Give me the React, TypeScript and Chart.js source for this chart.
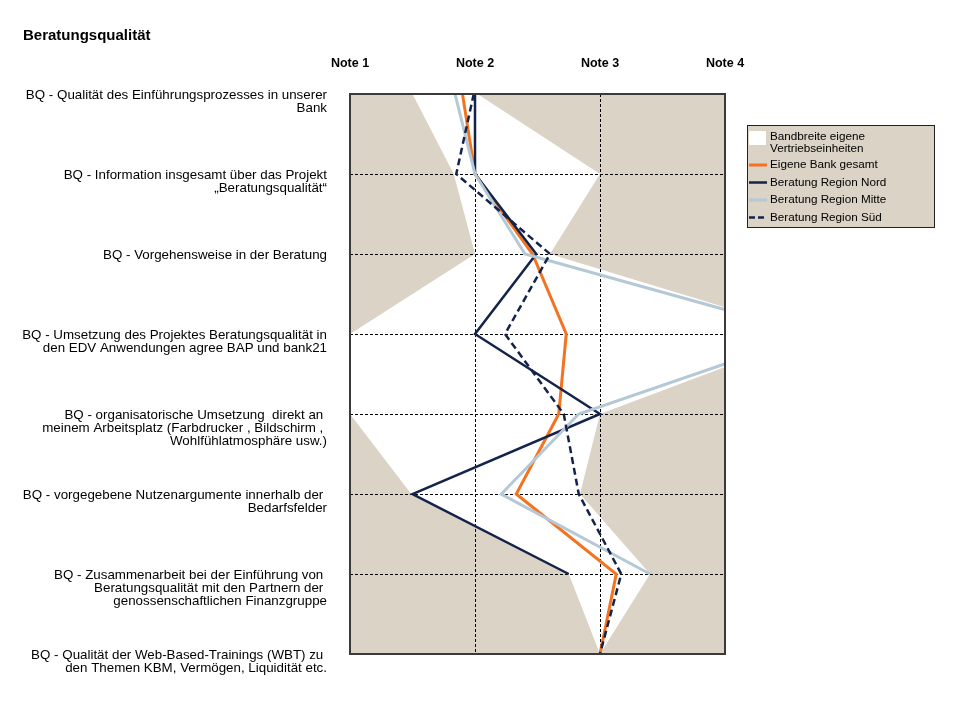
import React, { useEffect, useRef } from "react";
import { Chart, registerables } from "chart.js";

// ---------- data ----------
const chartTitle = "Beratungsqualität";

const categoryLines: string[][] = [
  ["BQ - Qualität des Einführungsprozesses in unserer", "Bank"],
  ["BQ - Information insgesamt über das Projekt", "„Beratungsqualität“"],
  ["BQ - Vorgehensweise in der Beratung"],
  ["BQ - Umsetzung des Projektes Beratungsqualität in", "den EDV Anwendungen agree BAP und bank21"],
  ["BQ - organisatorische Umsetzung  direkt an ", "meinem Arbeitsplatz (Farbdrucker , Bildschirm , ", "Wohlfühlatmosphäre usw.)"],
  ["BQ - vorgegebene Nutzenargumente innerhalb der ", "Bedarfsfelder"],
  ["BQ - Zusammenarbeit bei der Einführung von ", "Beratungsqualität mit den Partnern der ", "genossenschaftlichen Finanzgruppe"],
  ["BQ - Qualität der Web-Based-Trainings (WBT) zu ", "den Themen KBM, Vermögen, Liquidität etc."],
];

const xTickLabels = ["Note 1", "Note 2", "Note 3", "Note 4"];

const seriesNames = [
  "Bandbreite eigene Vertriebseinheiten",
  "Eigene Bank gesamt",
  "Beratung Region Nord",
  "Beratung Region Mitte",
  "Beratung Region Süd",
];

const bandMin = [1.5, 1.83, 2.0, 1.0, 1.0, 1.49, 2.75, 3.0];
const bandMax = [2.02, 3.0, 2.6, 4.7, 3.0, 2.84, 3.4, 3.0];
const eigeneBank = [1.9, 2.0, 2.46, 2.73, 2.67, 2.33, 3.13, 3.0];
const regionNord = [2.0, 2.0, 2.49, 2.0, 3.0, 1.5, 2.75, null];
const regionMitte = [1.84, 2.0, 2.4, 4.7, 2.83, 2.21, 3.4, null];
const regionSued = [1.99, 1.85, 2.6, 2.24, 2.71, 2.83, 3.17, 3.0];

// ---------- styles ----------
const FONT = "'Liberation Sans', Arial, sans-serif";
const BEIGE = "#dad3c6";
const ORANGE = "#f47320";
const NAVY = "#14234a";
const LIGHTBLUE = "#b4c8d5";
const FRAME = "#3a3a3a";

const plotBgPlugin = {
  id: "plotBg",
  beforeDraw(chart: any, _args: any, opts: any) {
    if (!opts || !opts.color) return;
    const { ctx, chartArea: a } = chart;
    ctx.save();
    ctx.fillStyle = opts.color;
    ctx.fillRect(a.left, a.top, a.right - a.left, a.bottom - a.top);
    ctx.restore();
  },
};

Chart.register(plotBgPlugin);
Chart.register(...registerables);

const decorPlugin = {
  id: "decor",
  afterDraw(chart: any) {
    const { ctx, chartArea: a } = chart;
    const yScale = chart.scales.y;
    ctx.save();
    // frame
    ctx.strokeStyle = FRAME;
    ctx.lineWidth = 2;
    ctx.strokeRect(a.left, a.top, a.right - a.left, a.bottom - a.top);

    // title
    ctx.fillStyle = "#000";
    ctx.font = `bold 15px ${FONT}`;
    ctx.textAlign = "left";
    ctx.textBaseline = "middle";
    ctx.fillText(chartTitle, 23, 36);

    // category labels (top-aligned to each tick)
    ctx.font = `13.35px ${FONT}`;
    ctx.textAlign = "right";
    ctx.textBaseline = "middle";
    const lineH = 13.4;
    categoryLines.forEach((lines, i) => {
      const y0 = yScale.getPixelForTick(i) + 1;
      lines.forEach((t, j) => {
        ctx.fillText(t, 327, y0 + j * lineH);
      });
    });

    // legend
    const lx = 747.5, ly = 125.5, lw = 187, lh = 102;
    ctx.fillStyle = BEIGE;
    ctx.fillRect(lx, ly, lw, lh);
    ctx.strokeStyle = "#222";
    ctx.lineWidth = 1;
    ctx.strokeRect(lx, ly, lw, lh);

    ctx.font = `11.7px ${FONT}`;
    ctx.textAlign = "left";
    ctx.textBaseline = "middle";
    const tx = 770;
    // band swatch
    ctx.fillStyle = "#fff";
    ctx.fillRect(749, 131, 17, 14);
    ctx.fillStyle = "#000";
    const bandWords = seriesNames[0].split(" ");
    ctx.fillText(bandWords.slice(0, 2).join(" "), tx, 136.5);
    ctx.fillText(bandWords.slice(2).join(" "), tx, 148.5);

    const rows = [
      { y: 165, color: ORANGE, dash: [] as number[], w: 3 },
      { y: 182.5, color: NAVY, dash: [] as number[], w: 2.5 },
      { y: 200, color: LIGHTBLUE, dash: [] as number[], w: 3 },
      { y: 217.5, color: NAVY, dash: [6, 3], w: 2.5 },
    ];
    rows.forEach((r, i) => {
      ctx.strokeStyle = r.color;
      ctx.lineWidth = r.w;
      ctx.setLineDash(r.dash);
      ctx.beginPath();
      ctx.moveTo(749, r.y);
      ctx.lineTo(767, r.y);
      ctx.stroke();
      ctx.setLineDash([]);
      ctx.fillStyle = "#000";
      ctx.fillText(seriesNames[i + 1], tx, r.y);
    });
    ctx.restore();
  },
};

export default function App() {
  const ref = useRef<HTMLCanvasElement | null>(null);

  useEffect(() => {
    if (!ref.current) return;
    const lineDefaults = {
      pointRadius: 0,
      pointHoverRadius: 0,
      tension: 0,
      fill: false,
      clip: 0,
      spanGaps: false,
    };
    const chart = new Chart(ref.current, {
      type: "line",
      data: {
        labels: categoryLines.map((l) => l.join(" ")),
        datasets: [
          { ...lineDefaults, label: seriesNames[4], data: regionSued, borderColor: NAVY, borderWidth: 2.5, borderDash: [7, 4] },
          { ...lineDefaults, label: seriesNames[3], data: regionMitte, borderColor: LIGHTBLUE, borderWidth: 3 },
          { ...lineDefaults, label: seriesNames[2], data: regionNord, borderColor: NAVY, borderWidth: 2.5 },
          { ...lineDefaults, label: seriesNames[1], data: eigeneBank, borderColor: ORANGE, borderWidth: 3 },
          { ...lineDefaults, label: seriesNames[0], data: bandMin, borderColor: "rgba(0,0,0,0)", borderWidth: 1, backgroundColor: "#ffffff", fill: "+1" },
          { ...lineDefaults, label: seriesNames[0] + " max", data: bandMax, borderColor: "rgba(0,0,0,0)", borderWidth: 1 },
        ] as any,
      },
      options: {
        indexAxis: "y",
        responsive: false,
        animation: false,
        devicePixelRatio: 1,
        layout: { padding: { top: 54, left: 350, right: 232, bottom: 64 } },
        scales: {
          x: {
            type: "linear",
            position: "top",
            min: 1,
            max: 4,
            afterFit: (s: any) => { s.height = 40; },
            ticks: {
              stepSize: 1,
              padding: 23,
              color: "#000",
              font: { family: FONT, size: 12.5, weight: "bold" },
              callback: (v: any) => xTickLabels[Math.round(v) - 1] ?? "",
            },
            grid: {
              drawTicks: false,
              lineWidth: 1,
              color: (c: any) => (c.tick && (c.tick.value === 1 || c.tick.value === 4) ? "rgba(0,0,0,0)" : "#000"),
            },
            border: { display: false, dash: [3, 2] },
          },
          y: {
            type: "category",
            afterFit: (s: any) => { s.width = 0; },
            ticks: { display: false },
            grid: {
              drawTicks: false,
              lineWidth: 1,
              color: (c: any) => (c.index === 0 || c.index === categoryLines.length - 1 ? "rgba(0,0,0,0)" : "#000"),
            },
            border: { display: false, dash: [3, 2] },
          },
        },
        plugins: {
          plotBg: { color: BEIGE },
          filler: { drawTime: "beforeDraw" },
          legend: { display: false },
          title: { display: false },
          tooltip: { enabled: false },
        } as any,
      } as any,
      plugins: [decorPlugin],
    });
    return () => chart.destroy();
  }, []);

  return (
    <div style={{ position: "fixed", left: 0, top: 0, width: 957, height: 718, background: "#fff" }}>
      <canvas ref={ref} width={957} height={718} style={{ display: "block", width: 957, height: 718 }} />
    </div>
  );
}
